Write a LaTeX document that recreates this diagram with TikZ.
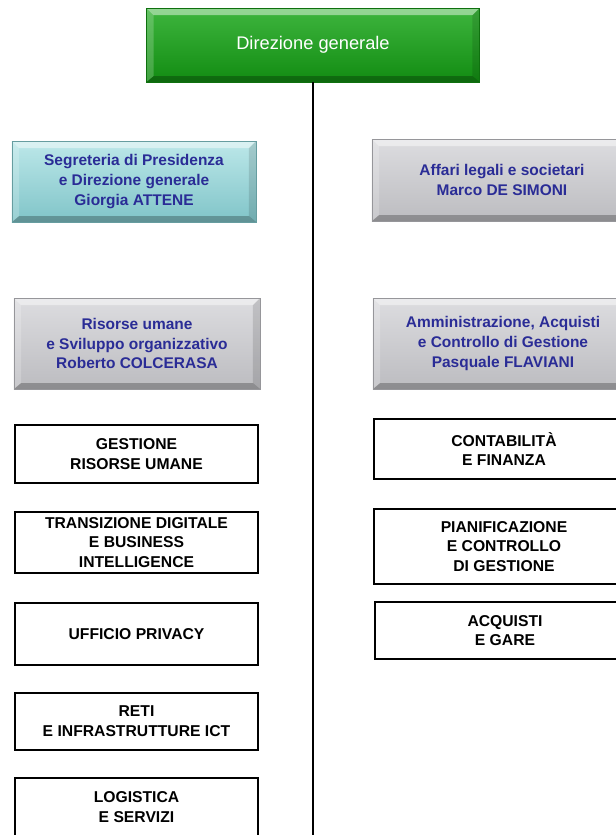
\documentclass[tikz,border=0pt]{standalone}
\usepackage{fontspec}
\setmainfont{Liberation Sans}
\usepackage{tikz}
\usetikzlibrary{positioning, calc}

\definecolor{dgGreen}{RGB}{28,168,28}
\definecolor{dgGreenDark}{RGB}{18,140,18}
\definecolor{segCyan}{RGB}{172,226,228}
\definecolor{segCyanDark}{RGB}{128,196,200}
\definecolor{boxGray}{RGB}{212,212,216}
\definecolor{boxGrayDark}{RGB}{188,188,192}
\definecolor{nameBlue}{RGB}{42,44,150}

\tikzset{
  bevel/.style={
    path picture={
      \fill[white,opacity=.45] (path picture bounding box.north west) -- (path picture bounding box.north east)
        -- ([xshift=-6pt,yshift=-6pt]path picture bounding box.north east) -- ([xshift=6pt,yshift=-6pt]path picture bounding box.north west) -- cycle;
      \fill[white,opacity=.2] (path picture bounding box.north west) -- ([xshift=6pt,yshift=-6pt]path picture bounding box.north west)
        -- ([xshift=6pt,yshift=5pt]path picture bounding box.south west) -- (path picture bounding box.south west) -- cycle;
      \fill[black,opacity=.12] (path picture bounding box.north east) -- ([xshift=-6pt,yshift=-6pt]path picture bounding box.north east)
        -- ([xshift=-6pt,yshift=5pt]path picture bounding box.south east) -- (path picture bounding box.south east) -- cycle;
      \fill[black,opacity=.25] (path picture bounding box.south west) -- (path picture bounding box.south east)
        -- ([xshift=-6pt,yshift=5pt]path picture bounding box.south east) -- ([xshift=6pt,yshift=5pt]path picture bounding box.south west) -- cycle;
    }
  }
}

\begin{document}
\begin{tikzpicture}[x=0.03cm, y=-0.03cm,
    headbox/.style={bevel, top color=dgGreen!85!white, bottom color=dgGreenDark, draw=dgGreenDark!80!black, line width=0.3pt,
      minimum width=9.99cm, minimum height=2.22cm, text=white, font=\fontsize{15.6}{19}\selectfont},
    areabox/.style={bevel, top color=boxGray!80!white, bottom color=boxGrayDark, draw=boxGrayDark!80!black, line width=0.3pt,
      minimum width=7.32cm, align=center, text=nameBlue, font=\bfseries\fontsize{13.2}{17}\selectfont},
    unitbox/.style={draw, line width=1.1pt, fill=white, minimum width=7.29cm, align=center,
      font=\bfseries\fontsize{13.4}{16.8}\selectfont}]
    \useasboundingbox (0,0) rectangle (616,835);
    \clip (0,0) rectangle (616,835);

    % vertici
    \node[headbox] (dg) at (313,45) {Direzione generale};
    \coordinate (linebottom) at (313,840);
    \draw[line width=1.4pt] (dg.south) -- (linebottom);

    % staff e aree
    \node[areabox, top color=segCyan!80!white, bottom color=segCyanDark, draw=segCyanDark!80!black, minimum height=2.43cm]
      (seg) at (134,181.5) {Segreteria di Presidenza\\e Direzione generale\\Giorgia ATTENE};
    \node[areabox, minimum width=7.8cm, minimum height=2.46cm]
      (aff) at (502,180) {Affari legali e societari\\Marco DE SIMONI};
    \node[areabox, minimum width=7.38cm, minimum height=2.73cm]
      (rsu) at (137,343.5) {Risorse umane\\e Sviluppo organizzativo\\Roberto COLCERASA};
    \node[areabox, minimum width=7.8cm, minimum height=2.73cm]
      (amm) at (503,343.5) {Amministrazione, Acquisti\\e Controllo di Gestione\\Pasquale FLAVIANI};

    % uffici area risorse umane
    \foreach \n/\y/\h/\txt in {ges/454/1.74/{GESTIONE\\RISORSE UMANE},
                               tra/542.5/1.83/{TRANSIZIONE DIGITALE\\E BUSINESS\\INTELLIGENCE},
                               uff/634/1.86/{UFFICIO PRIVACY},
                               ret/721.5/1.71/{RETI\\E INFRASTRUTTURE ICT},
                               log/807/1.74/{LOGISTICA\\E SERVIZI}} {
        \node[unitbox, minimum height=\h cm] (\n) at (136.5,\y) {\txt};
    }

    % uffici area amministrazione
    \foreach \n/\x/\y/\h/\txt in {con/504/449/1.8/{CONTABILITÀ\\E FINANZA},
                                  pia/504/546.5/2.25/{PIANIFICAZIONE\\E CONTROLLO\\DI GESTIONE},
                                  acq/505/630.5/1.71/{ACQUISTI\\E GARE}} {
        \node[unitbox, minimum width=7.8cm, minimum height=\h cm] (\n) at (\x,\y) {\txt};
    }
\end{tikzpicture}
\end{document}
